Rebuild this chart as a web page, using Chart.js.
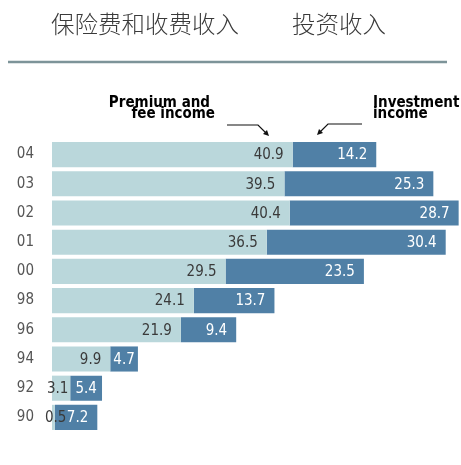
<!DOCTYPE html>
<html><head><meta charset="utf-8">
<script src="https://cdn.jsdelivr.net/npm/chart.js@4/dist/chart.umd.min.js"></script>
<style>html,body{margin:0;padding:0;background:#fff}#wrap{width:461px;height:465px;position:relative}</style>
</head><body><div id="wrap"><canvas id="c" width="461" height="465"></canvas></div>
<script>
const years = ["04","03","02","01","00","98","96","94","92","90"];
const premiumFee = [40.9,39.5,40.4,36.5,29.5,24.1,21.9,9.9,3.1,0.5];
const investment = [14.2,25.3,28.7,30.4,23.5,13.7,9.4,4.7,5.4,7.2];
const headerLeft = "保险费和收费收入";
const headerRight = "投资收入";
const noteLeft = ["Premium and","fee income"];
const noteRight = ["Investment","income"];

const NUMFONT = '"DejaVu Sans Condensed","Liberation Sans Narrow","Noto Sans",sans-serif';

const decor = {
  id:'decor',
  afterDraw(chart){
    const ctx = chart.ctx;
    ctx.save();
    // header
    ctx.fillStyle = '#3a3a3a';
    ctx.font = '300 23.5px "Noto Sans CJK SC",sans-serif';
    ctx.textBaseline = 'middle';
    ctx.textAlign = 'left';
    ctx.fillText(headerLeft, 51, 24);
    ctx.fillText(headerRight, 292, 24);
    // rule
    ctx.strokeStyle = '#7d9499';
    ctx.lineWidth = 2.5;
    ctx.beginPath(); ctx.moveTo(8, 62); ctx.lineTo(447, 62); ctx.stroke();
    // notes
    ctx.fillStyle = '#000';
    ctx.font = 'bold 15px "Liberation Sans Narrow","DejaVu Sans Condensed",sans-serif';
    ctx.textAlign = 'right';
    ctx.fillText(noteLeft[0], 210, 103);
    ctx.fillText(noteLeft[1], 215, 114);
    ctx.textAlign = 'left';
    ctx.fillText(noteRight[0], 373, 103);
    ctx.fillText(noteRight[1], 373, 114);
    // arrows
    ctx.strokeStyle = '#111'; ctx.lineWidth = 1.2;
    ctx.beginPath(); ctx.moveTo(227,125); ctx.lineTo(258,125); ctx.lineTo(266,133); ctx.stroke();
    ctx.fillStyle = '#111';
    ctx.beginPath(); ctx.moveTo(269,136); ctx.lineTo(263,134); ctx.lineTo(267,130); ctx.closePath(); ctx.fill();
    ctx.beginPath(); ctx.moveTo(362,124); ctx.lineTo(328,124); ctx.lineTo(320,132); ctx.stroke();
    ctx.beginPath(); ctx.moveTo(317,135); ctx.lineTo(319,129); ctx.lineTo(323,133); ctx.closePath(); ctx.fill();
    // value labels
    ctx.textBaseline = 'middle';
    ctx.font = '15px ' + NUMFONT;
    chart.data.datasets.forEach((ds, di) => {
      const meta = chart.getDatasetMeta(di);
      meta.data.forEach((bar, i) => {
        const txt = ds.data[i].toFixed(1);
        const tw = ctx.measureText(txt).width;
        const left = Math.min(bar.base, bar.x), right = Math.max(bar.base, bar.x);
        const w = right - left;
        ctx.fillStyle = di === 0 ? '#3a3a3a' : '#ffffff';
        if (w < tw) {
          ctx.textAlign = 'left';
          ctx.fillText(txt, left - (w < tw / 3 ? 7 : 5), bar.y + 1);
        } else {
          const pad = Math.min(9, Math.max(2, (w - tw) / 2));
          ctx.textAlign = 'right';
          ctx.fillText(txt, right - pad, bar.y + 1);
        }
      });
    });
    ctx.restore();
  }
};

new Chart(document.getElementById('c'), {
  type: 'bar',
  data: {
    labels: years,
    datasets: [
      {label:'Premium and fee income', data: premiumFee, backgroundColor:'#bad7db', borderWidth:0},
      {label:'Investment income', data: investment, backgroundColor:'#5080a6', borderWidth:0}
    ]
  },
  options: {
    indexAxis: 'y',
    responsive: false,
    animation: false,
    devicePixelRatio: 1,
    layout: {padding: {top: 140, bottom: 33, left: 0, right: 0}},
    datasets: {bar: {categoryPercentage: 1, barPercentage: 0.86}},
    plugins: {legend: {display:false}, tooltip: {enabled:false}},
    scales: {
      x: {stacked: true, display: false, min: 0, max: 69.5},
      y: {
        stacked: true,
        grid: {display:false}, border: {display:false},
        ticks: {color:'#555', font:{size:15, family: NUMFONT}, padding: 10},
        afterFit(s){ s.width = 52; }
      }
    }
  },
  plugins: [decor]
});
</script>
</body></html>
